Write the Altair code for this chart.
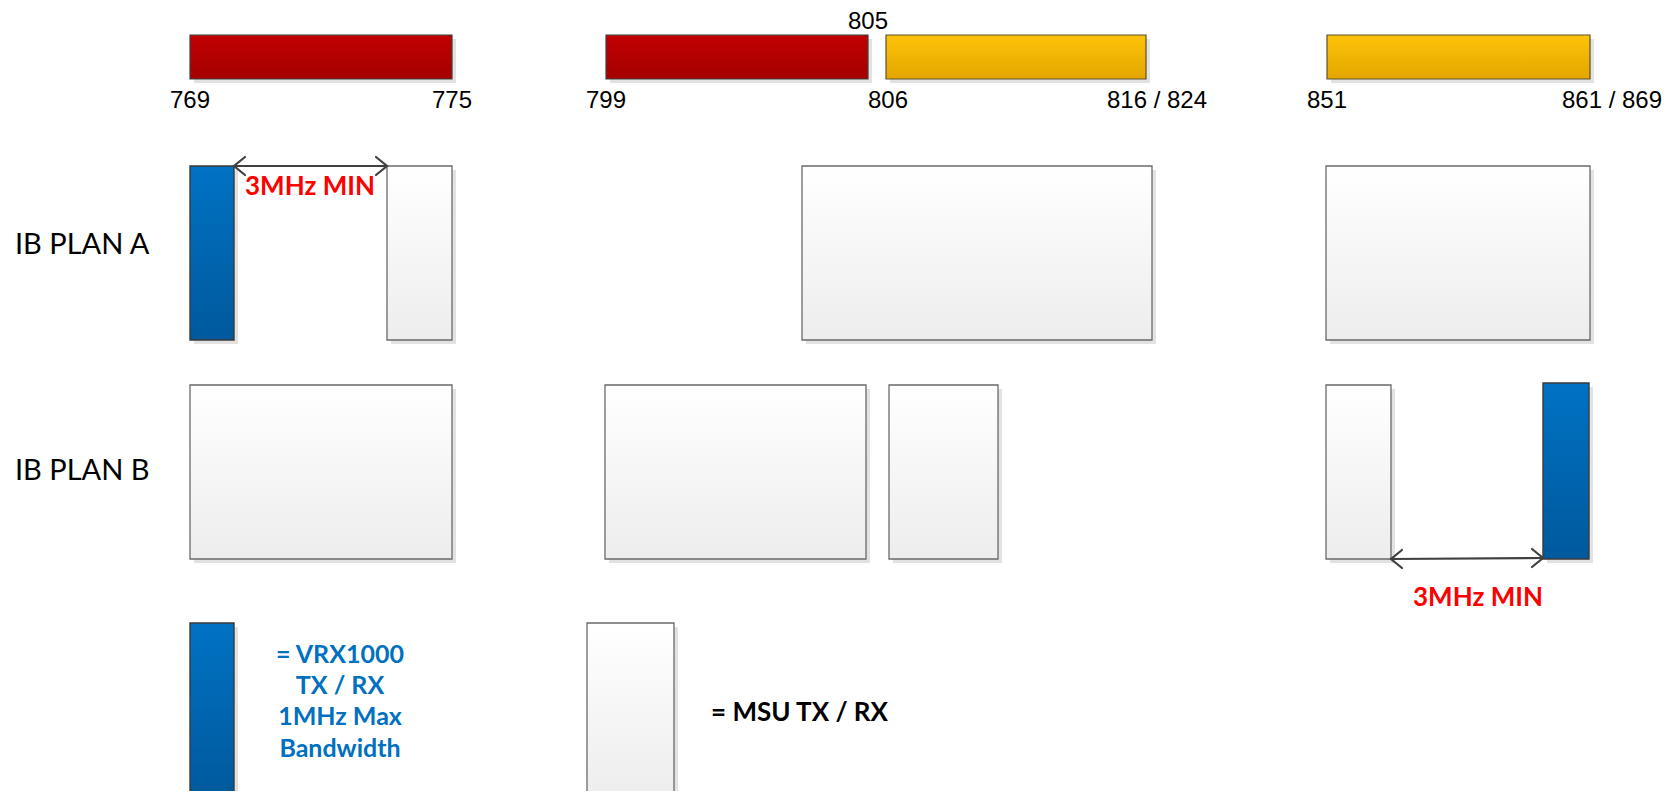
import altair as alt
import pandas as pd

W, H = 1661, 783

# ---- top frequency bands ----
band_kind = ["red", "red", "yellow", "yellow"]
band_x0 = [190, 606, 886, 1327]
band_x1 = [452, 868, 1146, 1590]
band_y0 = [35, 35, 35, 35]
band_y1 = [79, 79, 79, 79]

freq_labels = ["769", "775", "799", "806", "805", "816 / 824", "851", "861 / 869"]
freq_label_x = [190, 452, 606, 888, 868, 1157, 1327, 1612]
freq_label_y = [101, 101, 101, 101, 22, 101, 101, 101]

# ---- IB plan A ----
planA_kind = ["blue", "white", "white", "white"]
planA_x0 = [190, 387, 802, 1326]
planA_x1 = [234, 452, 1152, 1590]
planA_y0 = [166, 166, 166, 166]
planA_y1 = [340, 340, 340, 340]

# ---- IB plan B ----
planB_kind = ["white", "white", "white", "white", "blue"]
planB_x0 = [190, 605, 889, 1326, 1543]
planB_x1 = [452, 866, 998, 1391, 1589]
planB_y0 = [385, 385, 385, 385, 383]
planB_y1 = [559, 559, 559, 559, 559]

# ---- legend ----
legend_kind = ["blue", "white"]
legend_x0 = [190, 587]
legend_x1 = [234, 674]
legend_y0 = [623, 623]
legend_y1 = [797, 797]

row_labels = ["IB PLAN A", "IB PLAN B"]
row_label_x = [15, 15]
row_label_y = [245, 471]

arrow_x0 = [234, 1391]
arrow_x1 = [387, 1543]
arrow_y0 = [166, 559]
arrow_y1 = [166, 558]
arrow_text = ["3MHz MIN", "3MHz MIN"]
arrow_text_x = [310, 1478]
arrow_text_y = [187, 598]

vrx_lines = ["= VRX1000", "TX / RX", "1MHz Max", "Bandwidth"]
vrx_x = [340, 340, 340, 340]
vrx_y = [655, 686, 717, 749]
msu_text = ["= MSU TX / RX"]
msu_x = [711]
msu_y = [713]

# ---------- tables ----------
boxes = pd.DataFrame({
    "kind": band_kind + planA_kind + planB_kind + legend_kind,
    "x0": band_x0 + planA_x0 + planB_x0 + legend_x0,
    "x1": band_x1 + planA_x1 + planB_x1 + legend_x1,
    "y0": band_y0 + planA_y0 + planB_y0 + legend_y0,
    "y1": band_y1 + planA_y1 + planB_y1 + legend_y1,
})

freq_df = pd.DataFrame({"t": freq_labels, "x": freq_label_x, "y": freq_label_y})
row_df = pd.DataFrame({"t": row_labels, "x": row_label_x, "y": row_label_y})
arrow_df = pd.DataFrame({"x0": arrow_x0, "x1": arrow_x1, "y0": arrow_y0, "y1": arrow_y1})
arrow_txt_df = pd.DataFrame({"t": arrow_text, "x": arrow_text_x, "y": arrow_text_y})
vrx_df = pd.DataFrame({"t": vrx_lines, "x": vrx_x, "y": vrx_y})
msu_df = pd.DataFrame({"t": msu_text, "x": msu_x, "y": msu_y})

HEAD_L, HEAD_W = 11, 9
heads = []
for i in range(len(arrow_x0)):
    for side, (tx, ty, d) in enumerate([(arrow_x0[i], arrow_y0[i], 1), (arrow_x1[i], arrow_y1[i], -1)]):
        hid = f"{i}-{side}"
        heads += [
            {"id": hid, "o": 0, "x": tx + d * HEAD_L, "y": ty - HEAD_W},
            {"id": hid, "o": 1, "x": tx, "y": ty},
            {"id": hid, "o": 2, "x": tx + d * HEAD_L, "y": ty + HEAD_W},
        ]
head_df = pd.DataFrame(heads)

xs = alt.Scale(domain=[8, 8 + W], nice=False, zero=False)
ys = alt.Scale(domain=[8, 8 + H], nice=False, zero=False, reverse=True)


def grad(top, bottom):
    return {"gradient": "linear", "x1": 0, "y1": 0, "x2": 0, "y2": 1,
            "stops": [{"offset": 0, "color": top}, {"offset": 1, "color": bottom}]}


rect_enc = dict(
    x=alt.X("x0:Q", scale=xs, axis=None), x2="x1:Q",
    y=alt.Y("y0:Q", scale=ys, axis=None), y2="y1:Q",
)

base_boxes = alt.Chart(boxes)
shadow = base_boxes.mark_rect(color="#e2e2e2", xOffset=4, x2Offset=4, yOffset=4, y2Offset=4).encode(**rect_enc)

styles = {
    "red": (grad("#C20000", "#A40000"), "#404040", 1.2),
    "yellow": (grad("#FFC30A", "#E2A600"), "#5a5030", 1.2),
    "blue": (grad("#0072C4", "#00599C"), "#3a3a3a", 1.4),
    "white": (grad("#FFFFFF", "#EDEDED"), "#6a6a6a", 1.3),
}
box_layers = []
for k, (fill, stroke, sw) in styles.items():
    box_layers.append(
        base_boxes.transform_filter(alt.datum.kind == k)
        .mark_rect(fill=fill, stroke=stroke, strokeWidth=sw)
        .encode(**rect_enc)
    )

arrow_line = alt.Chart(arrow_df).mark_rule(color="#404040", strokeWidth=2.2).encode(
    x=alt.X("x0:Q", scale=xs, axis=None), x2="x1:Q",
    y=alt.Y("y0:Q", scale=ys, axis=None), y2="y1:Q",
)
arrow_heads = alt.Chart(head_df).mark_line(color="#404040", strokeWidth=2.2, strokeCap="round", strokeJoin="miter").encode(
    x=alt.X("x:Q", scale=xs, axis=None),
    y=alt.Y("y:Q", scale=ys, axis=None),
    detail="id:N", order="o:Q",
)


def text_layer(df, align, font, size, weight, color):
    return alt.Chart(df).mark_text(align=align, baseline="middle", font=font, fontSize=size,
                                   fontWeight=weight, color=color).encode(
        x=alt.X("x:Q", scale=xs, axis=None),
        y=alt.Y("y:Q", scale=ys, axis=None),
        text="t:N",
    )


freq_txt = text_layer(freq_df, "center", "Liberation Sans", 24, "normal", "#000000")
row_txt = text_layer(row_df, "left", "Lato", 29, "normal", "#000000")
arr_txt = text_layer(arrow_txt_df, "center", "Lato", 26, "bold", "#FF0000")
vrx_txt = text_layer(vrx_df, "center", "Lato", 25, "bold", "#0070C0")
msu_txt = text_layer(msu_df, "left", "Lato", 26, "bold", "#000000")

chart = alt.layer(
    shadow, *box_layers, arrow_line, arrow_heads,
    freq_txt, row_txt, arr_txt, vrx_txt, msu_txt,
).properties(
    width=W, height=H, padding=0,
    autosize=alt.AutoSizeParams(type="none"),
    background="#FFFFFF",
).configure_view(stroke=None)

chart.save("out.html", embed_options={"renderer": "svg", "actions": False})
